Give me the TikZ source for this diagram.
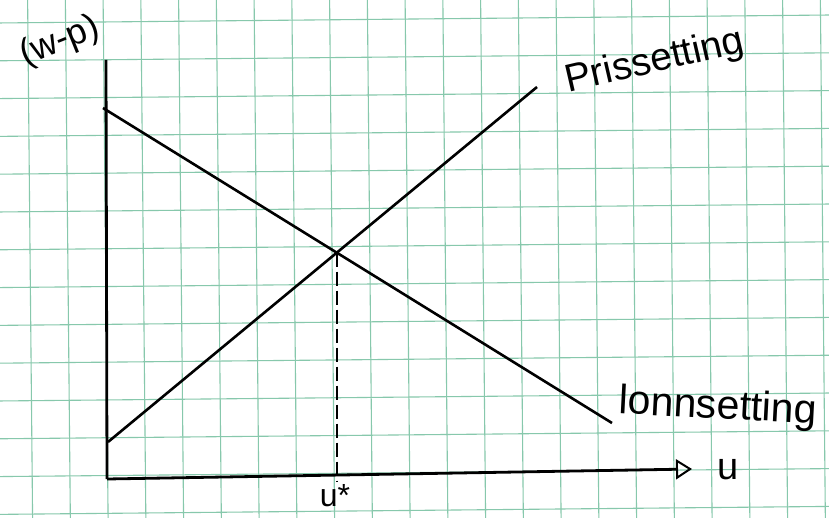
\documentclass[tikz,border=0pt]{standalone}
\usepackage{fontspec}
\setmainfont{Liberation Sans}
\usetikzlibrary{arrows.meta}
\definecolor{gridgreen}{RGB}{135,200,172}
\tikzset{
  gridline/.style={draw=gridgreen, line width=1.1pt},
  axisline/.style={draw=black, line width=2.8pt},
  curveline/.style={draw=black, line width=2.6pt},
  guide/.style={draw=black, line width=1.6pt, dash pattern=on 14pt off 5pt},
  handlabel/.style={inner sep=0pt, text=black},
}
\begin{document}
\begin{tikzpicture}[x=1pt, y=-1pt]
\useasboundingbox (0,0) rectangle (829,518);
\fill[white] (0,0) rectangle (829,518);
% paper grid (slightly rotated)
\begin{scope}
\clip (0,0) rectangle (829,518);
\begin{scope}[rotate around={0.55:(414,259)}]
\foreach \k in {-12,...,13} {
  \draw[gridline] (407.6+37.75*\k,-40) -- (407.6+37.75*\k,560);
}
\foreach \k in {-8,...,8} {
  \draw[gridline] (-40,245.8+37.8*\k) -- (870,245.8+37.8*\k);
}
\end{scope}
\end{scope}
% axes
\coordinate (ytop) at (106,60);
\coordinate (O) at (107,479);
\coordinate (xend) at (692,469);
\draw[axisline] (ytop) -- (O);
\draw[axisline, -{Triangle[open, length=16pt, width=20pt, line width=2pt]}] (O) -- (xend);
% curves
\coordinate (P1) at (108,442);
\coordinate (P2) at (537,87);
\coordinate (W1) at (103,108);
\coordinate (W2) at (612,423);
\draw[curveline] (P1) -- (P2);
\draw[curveline] (W1) -- (W2);
\coordinate (E) at (intersection of P1--P2 and W1--W2);
\coordinate (F) at (E |- O);
\draw[guide] (E) -- ([yshift=-2pt]F);
% labels
\node[handlabel, font=\fontsize{36}{36}\selectfont, rotate=22] (ylab) at (60,42) {(w-p)};
\node[handlabel, font=\fontsize{39}{39}\selectfont, rotate=13] (plab) at (655,62) {Prissetting};
\node[handlabel, font=\fontsize{41}{41}\selectfont, rotate=-3] (wlab) at (718,408) {lonnsetting};
\node[handlabel, font=\fontsize{38}{38}\selectfont] (xlab) at (728,470) {u};
\node[handlabel, font=\fontsize{32}{32}\selectfont] (ulab) at (335,496) {u*};
\end{tikzpicture}
\end{document}
